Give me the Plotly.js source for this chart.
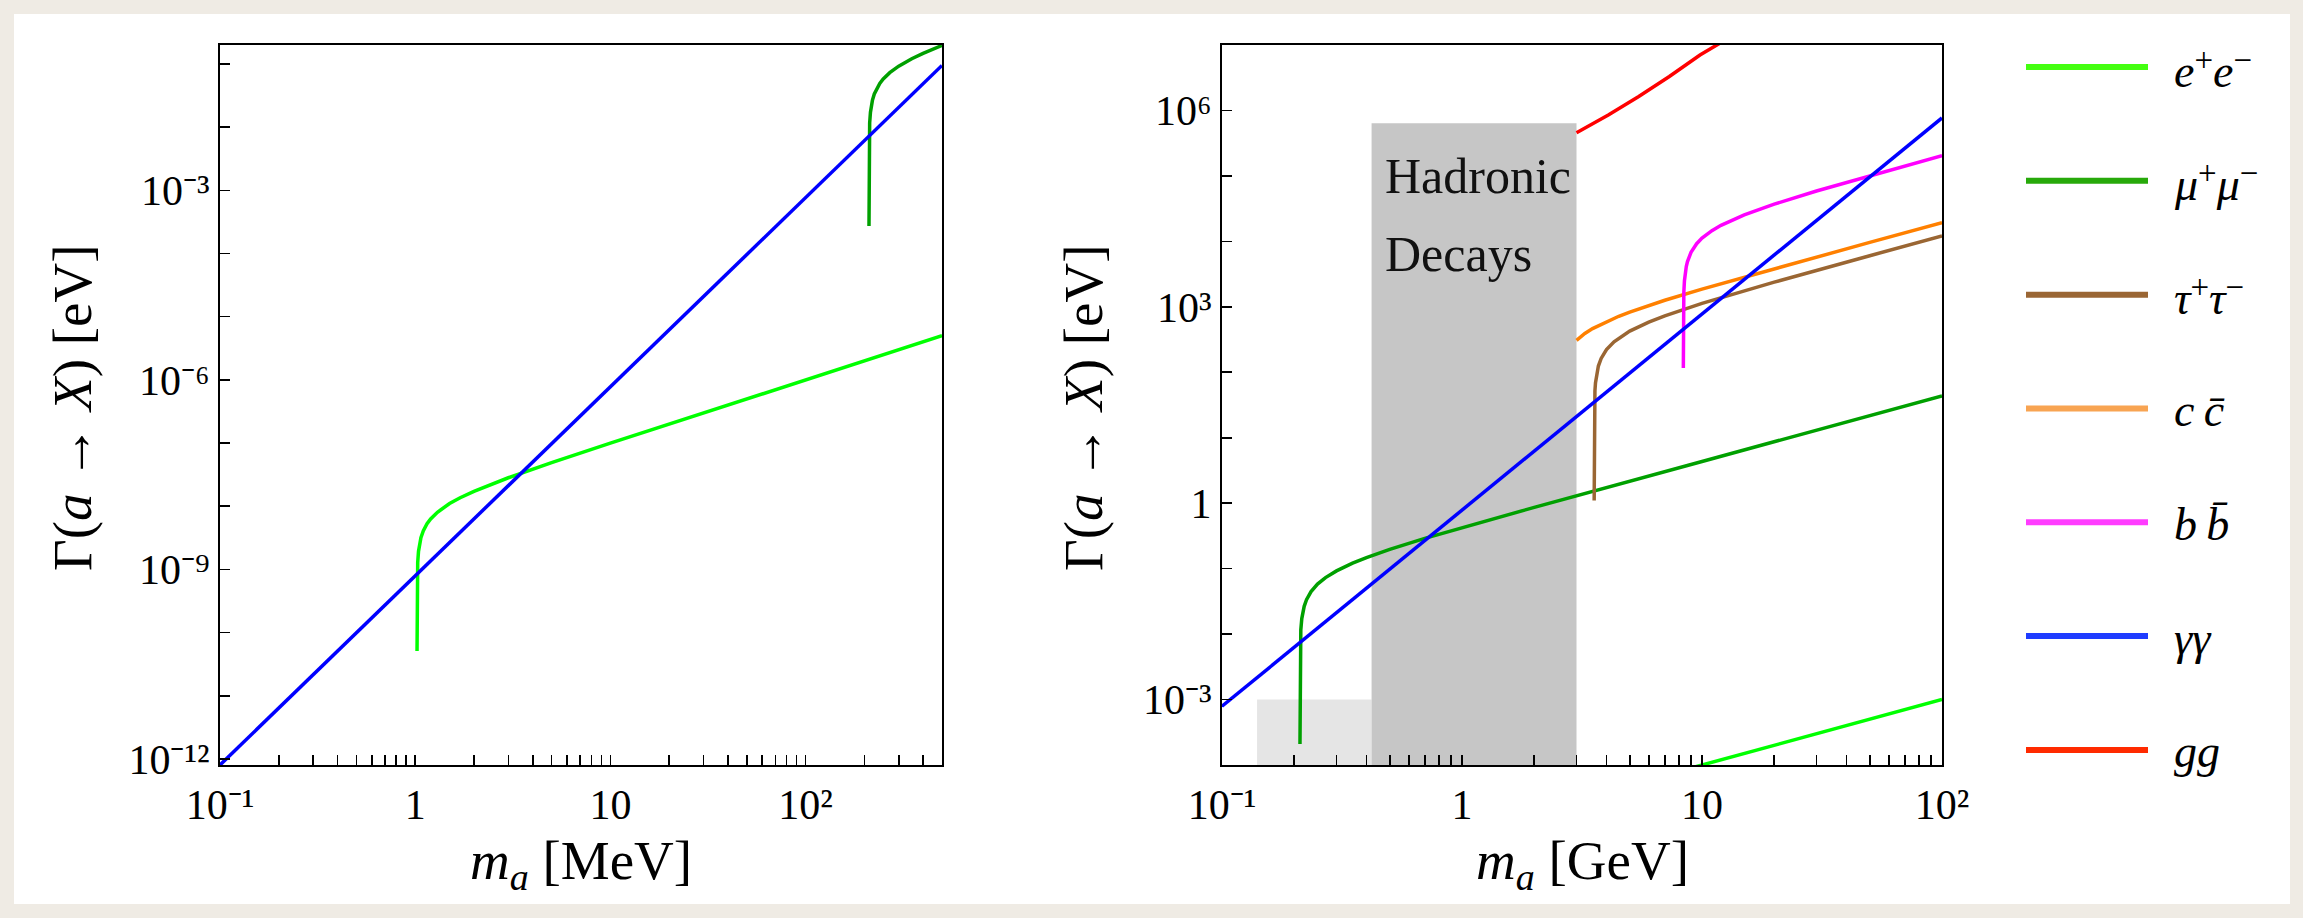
<!DOCTYPE html>
<html><head><meta charset="utf-8">
<script src="https://cdn.plot.ly/plotly-3.0.1.min.js"></script>
<style>html,body{margin:0;padding:0;background:#efebe4}</style>
</head><body>
<div id="chart" style="width:2303px;height:918px"></div>
<script>
// ---------- data ----------
// Left panel: m_a in MeV, Gamma in eV
const eeLeftX   = [1.022, 1.025, 1.03, 1.04, 1.05, 1.07, 1.1, 1.15, 1.2, 1.3, 1.5, 1.7, 2, 2.5, 3, 5, 10, 500];
const eeLeftY   = [5.1e-11, 7.8e-10, 1.28e-9, 1.93e-9, 2.41e-9, 3.17e-9, 4.07e-9, 5.27e-9, 6.29e-9, 8.03e-9, 1.10e-8, 1.36e-8, 1.72e-8, 2.28e-8, 2.82e-8, 4.89e-8, 9.95e-8, 5.0e-6];
const mumuLeftX = [211.3, 212, 213, 215, 217, 220, 225, 235, 240, 250, 270, 300, 350, 400, 500];
const mumuLeftY = [2.73e-4, 7.47e-3, 0.01166, 0.01724, 0.02144, 0.02658, 0.03356, 0.04463, 0.04939, 0.05798, 0.07295, 0.09239, 0.1211, 0.1474, 0.1967];
const ggamLeftX = [0.1, 500];
const ggamLeftY = [8.0e-13, 9.5e-2];

// Right panel: m_a in GeV, Gamma in eV
const eeRightX   = [5, 100];
const eeRightY   = [5.0e-5, 1.0e-3];
const mumuRightX = [0.2113, 0.2114, 0.213, 0.215, 0.217, 0.22, 0.225, 0.235, 0.25, 0.27, 0.3, 0.35, 0.4, 0.5, 0.7, 1, 2, 10, 100];
const mumuRightY = [2.1e-4, 2.83e-3, 0.01166, 0.01724, 0.02144, 0.02658, 0.03356, 0.04463, 0.05798, 0.07295, 0.09239, 0.1211, 0.1474, 0.1967, 0.2897, 0.4242, 0.863, 4.34, 43.4];
const tautauX = [3.554, 3.555, 3.56, 3.57, 3.58, 3.6, 3.63, 3.65, 3.7, 3.8, 4, 4.3, 5, 6, 7, 10, 20, 50, 100];
const tautauY = [1.1, 10.2, 25.0, 40.8, 52.1, 69.4, 89.3, 100.6, 124.4, 162.6, 222, 292.7, 425, 584.5, 729, 1130, 2380, 6030, 12080];
const ccX = [3.0, 3.25, 3.5, 4, 4.5, 5, 7, 10, 20, 50, 100];
const ccY = [308, 391, 465, 596, 717, 831, 1259, 1867, 3829, 9637, 19296];
const bbX = [8.36, 8.37, 8.4, 8.45, 8.5, 8.6, 8.7, 9, 9.5, 10, 11, 12, 15, 20, 30, 50, 100];
const bbY = [116, 834, 1670, 2509, 3134, 4116, 4913, 6800, 9206, 11194, 14584, 17561, 25407, 37065, 58776, 100564, 203286];
const ggamRightX = [0.1, 100];
const ggamRightY = [7.9e-4, 7.7e5];
const gluonX = [3.0, 4.07, 5.45, 7.31, 9.81, 13.5];
const gluonY = [4.57e5, 8.49e5, 1.633e6, 3.31e6, 7.03e6, 1.41e7];

// shaded regions (GeV, eV)
const lightBandX = [0.14, 0.42];
const lightBandY = [1e-4, 1e-3];
const hadronBandX = [0.42, 3.0];
const hadronBandY = [1e-4, 6.4e5];
const hadronText = ['Hadronic', 'Decays'];

// legend
const SUP = s => '<span style="font-size:33px;baseline-shift:16px">' + s + '</span>';
const legendNames = [
  '<i>e</i>' + SUP('+') + '<i>e</i>' + SUP('−'),
  '<i>μ</i>' + SUP('+') + '<i>μ</i>' + SUP('−'),
  '<i>τ</i>' + SUP('+') + '<i>τ</i>' + SUP('−'),
  '<i>c\u2009c\u0304</i>', '<i>b\u2009b\u0304</i>', '<i>γγ</i>', '<i>gg</i>'];
const legendColors = ['#44ff11', '#27a90a', '#9a6634', '#f8a452', '#ff3cff', '#1f3cff', '#ff2a00'];
const curveColors = {ee:'#00ff00', mumu:'#00a000', tau:'#9a6633', cc:'#ff8000', bb:'#ff00ff', gam:'#0000ff', gl:'#ff0000'};

// axis tick labels
const leftXLabels  = {'-1':'10⁻¹', '0':'1', '1':'10', '2':'10²'};
const leftYLabels  = {'-12':'10⁻¹²', '-9':'10⁻⁹', '-6':'10⁻⁶', '-3':'10⁻³'};
const rightXLabels = {'-1':'10⁻¹', '0':'1', '1':'10', '2':'10²'};
const rightYLabels = {'-3':'10⁻³', '0':'1', '3':'10³', '6':'10⁶'};
const xTitles = ['<i>m</i><span style="font-size:38px;baseline-shift:-11px"><i>a</i></span> [MeV]',
                 '<i>m</i><span style="font-size:38px;baseline-shift:-11px"><i>a</i></span> [GeV]'];
const yTitle = 'Γ(<i>a</i> → <i>X</i>) [eV]';

// ---------- helpers ----------
const W = 2303, H = 918;
const px = v => v / W, py = v => 1 - v / H;
const serif = 'Liberation Serif';
function logAxis(d0, d1, max, labels, minorSteps) {
  const vals = [], text = [], mvals = [];
  for (let d = d0; d <= d1; d++) {
    const base = Math.pow(10, d);
    if (labels[String(d)] !== undefined) { vals.push(base); text.push(labels[String(d)]); }
    else if (base <= max) mvals.push(base);
    if (minorSteps) for (let k = 2; k <= 9; k++) { const v = k * base; if (v <= max * 1.0001) mvals.push(v); }
  }
  return {
    type: 'log', showline: true, mirror: true, linecolor: '#000', linewidth: 2,
    ticks: 'inside', ticklen: 10, tickwidth: 1.6, tickcolor: '#000',
    showgrid: false, zeroline: false, tickmode: 'array', tickvals: vals, ticktext: text,
    minor: {tickmode: 'array', tickvals: mvals, ticks: 'inside', ticklen: 10, tickwidth: 1.6, tickcolor: '#000', showgrid: false},
    tickfont: {family: serif, size: 42, color: '#000'}, fixedrange: true
  };
}

const line = (x, y, color, xa, ya) => ({x, y, xaxis: xa, yaxis: ya, type: 'scatter', mode: 'lines',
  line: {color, width: 3.5}, hoverinfo: 'skip', showlegend: false});
const rect = (bx, by, color) => ({x: [bx[0], bx[1], bx[1], bx[0], bx[0]], y: [by[0], by[0], by[1], by[1], by[0]],
  xaxis: 'x2', yaxis: 'y2', type: 'scatter', mode: 'lines', fill: 'toself', fillcolor: color,
  line: {width: 0, color: color}, hoverinfo: 'skip', showlegend: false});

const traces = [
  line(eeLeftX, eeLeftY, curveColors.ee, 'x', 'y'),
  line(mumuLeftX, mumuLeftY, curveColors.mumu, 'x', 'y'),
  line(ggamLeftX, ggamLeftY, curveColors.gam, 'x', 'y'),
  rect(lightBandX, lightBandY, '#e5e5e5'),
  rect(hadronBandX, hadronBandY, '#c6c6c6'),
  line(eeRightX, eeRightY, curveColors.ee, 'x2', 'y2'),
  line(mumuRightX, mumuRightY, curveColors.mumu, 'x2', 'y2'),
  line(tautauX, tautauY, curveColors.tau, 'x2', 'y2'),
  line(ccX, ccY, curveColors.cc, 'x2', 'y2'),
  line(bbX, bbY, curveColors.bb, 'x2', 'y2'),
  line(ggamRightX, ggamRightY, curveColors.gam, 'x2', 'y2'),
  line(gluonX, gluonY, curveColors.gl, 'x2', 'y2')
];
legendNames.forEach((n, i) => {
  traces.push({x: [0, 1], y: [i, i], xaxis: 'x3', yaxis: 'y3', type: 'scatter', mode: 'lines',
    line: {color: legendColors[i], width: 6}, hoverinfo: 'skip', showlegend: false});
});

const annotations = [];
legendNames.forEach((n, i) => annotations.push({xref: 'x3', yref: 'y3', x: 1, y: i, xshift: 24, yshift: -2,
  xanchor: 'left', yanchor: 'middle', text: n, showarrow: false, font: {family: serif, size: 46, color: '#000'}}));
const titleFont = {family: serif, size: 55, color: '#000'};
annotations.push({xref: 'paper', yref: 'paper', x: px(581), y: py(864), xanchor: 'center', yanchor: 'middle',
  text: xTitles[0], showarrow: false, font: titleFont});
annotations.push({xref: 'paper', yref: 'paper', x: px(1582), y: py(864), xanchor: 'center', yanchor: 'middle',
  text: xTitles[1], showarrow: false, font: titleFont});
annotations.push({xref: 'paper', yref: 'paper', x: px(72), y: py(408), xanchor: 'center', yanchor: 'middle', textangle: -90,
  text: yTitle, showarrow: false, font: titleFont});
annotations.push({xref: 'paper', yref: 'paper', x: px(1083), y: py(408), xanchor: 'center', yanchor: 'middle', textangle: -90,
  text: yTitle, showarrow: false, font: titleFont});
annotations.push({xref: 'paper', yref: 'paper', x: px(1383), y: py(176), xanchor: 'left', yanchor: 'middle',
  text: hadronText[0], showarrow: false, font: {family: serif, size: 50, color: '#111'}});
annotations.push({xref: 'paper', yref: 'paper', x: px(1383), y: py(254), xanchor: 'left', yanchor: 'middle',
  text: hadronText[1], showarrow: false, font: {family: serif, size: 50, color: '#111'}});

const layout = {
  width: W, height: H, margin: {l: 0, r: 0, t: 0, b: 0},
  paper_bgcolor: '#efebe4', plot_bgcolor: '#ffffff', showlegend: false,
  shapes: [{type: 'rect', xref: 'paper', yref: 'paper', x0: px(14), x1: px(2290), y0: py(904), y1: py(14),
    fillcolor: '#ffffff', line: {width: 0}, layer: 'below'}],
  xaxis: Object.assign(logAxis(-1, 2, 500, leftXLabels, true), {domain: [px(220), px(942)], range: [-1, Math.log10(500)], anchor: 'y', ticklabelstandoff: 2}),
  yaxis: Object.assign(logAxis(-12, -1, 0.2, leftYLabels, false), {domain: [py(765), py(45)], range: [Math.log10(0.8e-12), Math.log10(0.2)], anchor: 'x'}),
  xaxis2: Object.assign(logAxis(-1, 2, 100, rightXLabels, true), {domain: [px(1222), px(1942)], range: [-1, 2], anchor: 'y2', ticklabelstandoff: 2}),
  yaxis2: Object.assign(logAxis(-3, 6, 1e7, rightYLabels, false), {domain: [py(765), py(45)], range: [-4, 7], anchor: 'x2'}),
  xaxis3: {domain: [px(2026), px(2148)], range: [0, 1], visible: false, fixedrange: true, anchor: 'y3'},
  yaxis3: {domain: [py(800), py(20)], range: [6.44, -0.413], visible: false, fixedrange: true, anchor: 'x3'},
  annotations
};
Plotly.newPlot('chart', traces, layout, {displayModeBar: false, staticPlot: true});
</script>
</body></html>
